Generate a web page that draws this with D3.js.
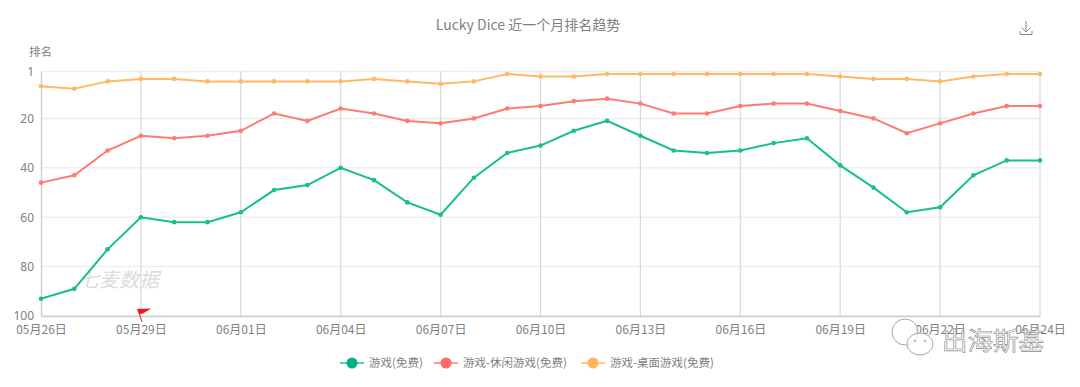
<!DOCTYPE html>
<html>
<head>
<meta charset="utf-8">
<script src="https://cdn.jsdelivr.net/npm/d3@7/dist/d3.min.js"></script>
<style>
  html, body { margin: 0; padding: 0; background: #fff; }
  text { font-family: "Noto Sans CJK SC", "Noto Sans", sans-serif; }
</style>
</head>
<body>
<div id="chart"></div>
<script>
// 31 categories, the source axis ends on 06月24日 at the last slot
var dates = ["05月26日","05月27日","05月28日","05月29日","05月30日","05月31日","06月01日","06月02日",
  "06月03日","06月04日","06月05日","06月06日","06月07日","06月08日","06月09日","06月10日",
  "06月11日","06月12日","06月13日","06月14日","06月15日","06月16日","06月17日","06月18日",
  "06月19日","06月20日","06月21日","06月22日","06月23日","06月23日","06月24日"];
var yTicks = [1, 20, 40, 60, 80, 100];
var gameRank = [93,89,73,60,62,62,58,49,47,40,45,54,59,44,34,31,25,21,27,33,34,33,30,28,39,48,58,56,43,37,37];
var casualRank = [46,43,33,27,28,27,25,18,21,16,18,21,22,20,16,15,13,12,14,18,18,15,14,14,17,20,26,22,18,15,15];
var boardRank = [7,8,5,4,4,5,5,5,5,5,4,5,6,5,2,3,3,2,2,2,2,2,2,2,3,4,4,5,3,2,2];
var seriesNames = ["游戏(免费)", "游戏-休闲游戏(免费)", "游戏-桌面游戏(免费)"];
var seriesColors = ["#19bd93", "#ff7a73", "#ffb962"];
var legendColors = ["#00b386", "#ff6a63", "#ffb55c"];

var width = 1080, height = 387;
var margin = { top: 71.5, right: 40, bottom: 71, left: 41 };
var textColor = "#7f7f7f";

var svg = d3.select("#chart").append("svg")
  .attr("width", width)
  .attr("height", height)
  .style("display", "block");

var x = d3.scalePoint()
  .domain(d3.range(dates.length))
  .range([margin.left, width - margin.right]);

var y = d3.scaleLinear()
  .domain([1, 100])
  .range([margin.top, height - margin.bottom]);

// title and y axis name
svg.append("text")
  .attr("x", 528).attr("y", 30)
  .attr("text-anchor", "middle")
  .attr("font-size", 14)
  .attr("fill", textColor)
  .text("Lucky Dice 近一个月排名趋势");

svg.append("text")
  .attr("x", 29).attr("y", 56)
  .attr("font-size", 11.5)
  .attr("fill", textColor)
  .text("排名");

// download icon
svg.append("path")
  .attr("d", "M1026 21v11M1021.5 27.5l4.5 4.5 4.5-4.5M1020 31v3.5h12V31")
  .attr("fill", "none")
  .attr("stroke", "#8a8a8a")
  .attr("stroke-width", 1);

// grid
svg.append("g").selectAll("line")
  .data(yTicks)
  .enter().append("line")
  .attr("x1", margin.left).attr("x2", width - margin.right)
  .attr("y1", function (d) { return y(d); })
  .attr("y2", function (d) { return y(d); })
  .attr("stroke", "#eeeeee")
  .attr("stroke-width", 1.5);

var xTickIdx = d3.range(0, dates.length, 3);

svg.append("g").selectAll("line")
  .data(xTickIdx.slice(1))
  .enter().append("line")
  .attr("x1", function (d) { return x(d); })
  .attr("x2", function (d) { return x(d); })
  .attr("y1", margin.top).attr("y2", height - margin.bottom)
  .attr("stroke", "#d9d9d9")
  .attr("stroke-width", 1.2);

// axes
var xAxis = svg.append("g")
  .attr("transform", "translate(0," + (height - margin.bottom) + ")")
  .call(d3.axisBottom(x)
    .tickValues(xTickIdx)
    .tickSize(0)
    .tickPadding(9)
    .tickFormat(function (i) { return dates[i]; }));
xAxis.select(".domain").attr("stroke", "#c9ced8").attr("stroke-width", 1.4);
xAxis.selectAll("text").attr("font-size", 12).attr("fill", textColor)
  .style("font-family", '"Noto Sans CJK SC", sans-serif');

var yAxis = svg.append("g")
  .attr("transform", "translate(" + margin.left + ",0)")
  .call(d3.axisLeft(y)
    .tickValues(yTicks)
    .tickSize(0)
    .tickPadding(7));
yAxis.select(".domain").attr("stroke", "#c9ced8").attr("stroke-width", 1.4);
yAxis.selectAll("text").attr("font-size", 12).attr("fill", textColor)
  .style("font-family", '"Noto Sans", sans-serif');

// watermark inside the plot
svg.append("text")
  .attr("x", 79).attr("y", 287)
  .attr("font-size", 20)
  .attr("font-style", "italic")
  .attr("fill", "#dcdcdc")
  .text("七麦数据");

// lines
var line = d3.line()
  .x(function (d, i) { return x(i); })
  .y(function (d) { return y(d); });

[gameRank, casualRank, boardRank].forEach(function (values, s) {
  var g = svg.append("g");
  g.append("path")
    .datum(values)
    .attr("d", line)
    .attr("fill", "none")
    .attr("stroke", seriesColors[s])
    .attr("stroke-width", 2);
  g.selectAll("circle")
    .data(values)
    .enter().append("circle")
    .attr("cx", function (d, i) { return x(i); })
    .attr("cy", function (d) { return y(d); })
    .attr("r", 2.3)
    .attr("fill", seriesColors[s]);
});

// legend
var legendX = [340, 434, 581];
var legend = svg.append("g").selectAll("g")
  .data(seriesNames)
  .enter().append("g")
  .attr("transform", function (d, i) { return "translate(" + legendX[i] + ",363)"; });
legend.append("line")
  .attr("x1", 0).attr("x2", 24)
  .attr("stroke", function (d, i) { return seriesColors[i]; })
  .attr("stroke-width", 1.5);
legend.append("circle")
  .attr("cx", 12).attr("r", 5.5)
  .attr("fill", function (d, i) { return legendColors[i]; });
legend.append("text")
  .attr("x", 29).attr("y", 4)
  .attr("font-size", 11.5)
  .attr("fill", textColor)
  .text(function (d) { return d; });

// red flag on the axis
svg.append("path")
  .attr("d", "M137 309l14 -0.5 -8 5 -3.5 0.5z")
  .attr("fill", "#f01818");
svg.append("line")
  .attr("x1", 138).attr("y1", 310)
  .attr("x2", 142).attr("y2", 322)
  .attr("stroke", "#f01818")
  .attr("stroke-width", 1);

// wechat account mark over the bottom right corner
var mark = svg.append("g")
  .attr("fill", "#ffffff")
  .attr("fill-opacity", 0.75)
  .attr("stroke", "#a8a8a8")
  .attr("stroke-width", 1);
mark.append("ellipse").attr("cx", 905).attr("cy", 332).attr("rx", 13).attr("ry", 13);
mark.append("ellipse").attr("cx", 920).attr("cy", 344).attr("rx", 13).attr("ry", 11);
mark.append("circle").attr("cx", 915).attr("cy", 341).attr("r", 0.8);
mark.append("circle").attr("cx", 925).attr("cy", 341).attr("r", 0.8);

svg.append("text")
  .attr("x", 942).attr("y", 350)
  .attr("font-size", 25.5)
  .attr("fill", "#ffffff")
  .attr("fill-opacity", 0.85)
  .attr("stroke", "#8f8f8f")
  .attr("stroke-width", 0.7)
  .text("出海斯基");
</script>
</body>
</html>
